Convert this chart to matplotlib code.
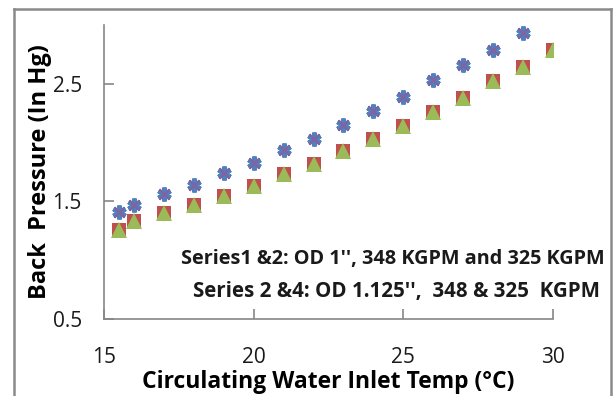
import matplotlib
matplotlib.use("Agg")
import matplotlib.pyplot as plt
from matplotlib.lines import Line2D

# Data
temp_upper = [15.5, 16, 17, 18, 19, 20, 21, 22, 23, 24, 25, 26, 27, 28, 29]
series1 = [1.41, 1.47, 1.56, 1.64, 1.74, 1.83, 1.94, 2.03, 2.15, 2.27, 2.39, 2.53, 2.66, 2.79, 2.93]
series2 = [1.41, 1.47, 1.56, 1.64, 1.74, 1.83, 1.94, 2.03, 2.15, 2.27, 2.39, 2.53, 2.66, 2.79, 2.93]
temp_lower = [15.5, 16, 17, 18, 19, 20, 21, 22, 23, 24, 25, 26, 27, 28, 29, 30]
series3 = [1.26, 1.33, 1.40, 1.47, 1.55, 1.63, 1.73, 1.82, 1.93, 2.03, 2.14, 2.26, 2.38, 2.52, 2.64, 2.79]
series4 = [1.26, 1.33, 1.40, 1.47, 1.55, 1.63, 1.73, 1.82, 1.93, 2.03, 2.14, 2.26, 2.38, 2.52, 2.64, 2.79]
xticks = [15, 20, 25, 30]
yticks = [0.5, 1.5, 2.5]
xlabel = "Circulating Water Inlet Temp (°C)"
ylabel = "Back  Pressure (In Hg)"
note1 = "Series1 &2: OD 1'', 348 KGPM and 325 KGPM"
note2 = "Series 2 &4: OD 1.125'',  348 & 325  KGPM"

plt.rcParams['font.family'] = ['Open Sans', 'DejaVu Sans']

W, H = 615, 396
fig = plt.figure(figsize=(W / 100, H / 100), dpi=100)
ax = fig.add_axes([104 / W, 1 - 319 / H, (553 - 104) / W, (319 - 25) / H])

ax.plot(temp_lower, series3, linestyle='none', marker='s', markersize=9.5,
        color='#C0504D', markeredgewidth=0, zorder=3)
ax.plot(temp_lower, series4, linestyle='none', marker='^', markersize=11,
        color='#9BBB59', markeredgewidth=0, zorder=4)
ax.plot(temp_upper, series1, linestyle='none', marker=(6, 2, 0), markersize=10,
        color='#4F81BD', markeredgewidth=3.2, zorder=5)
ax.plot(temp_upper, series2, linestyle='none', marker='x', markersize=7.5,
        color='#8064A2', markeredgewidth=1.8, zorder=6)

ax.set_xlim(15, 30)
ax.set_ylim(0.5, 3.0)
ax.set_xticks(xticks)
ax.set_yticks(yticks)
ax.set_xticklabels([str(v) for v in xticks])
ax.set_yticklabels([str(v) for v in yticks])

for s in ['top', 'right']:
    ax.spines[s].set_visible(False)
for s in ['left', 'bottom']:
    ax.spines[s].set_color('#868686')
    ax.spines[s].set_linewidth(1.2)

ax.tick_params(axis='both', direction='in', length=7, width=1.2, color='#868686',
               labelsize=15, labelcolor='#1a1a1a')
ax.tick_params(axis='x', pad=20)
ax.tick_params(axis='y', pad=16)

ax.set_xlabel(xlabel, fontsize=16.5, fontweight='bold')
ax.xaxis.set_label_coords(0.5, -(370 - 319) / 294)
ax.set_ylabel(ylabel, fontsize=17, fontweight='bold')
ax.yaxis.set_label_coords(-(104 - 52) / 449, 0.5)

fig.text(181 / W, 1 - 259 / H, note1, fontsize=14.3, fontweight='bold',
         ha='left', va='center', color='#1a1a1a')
fig.text(193 / W, 1 - 292 / H, note2, fontsize=14.8, fontweight='bold',
         ha='left', va='center', color='#1a1a1a')

# outer chart border (left, top, right)
bc = '#8a8a8a'
fig.add_artist(Line2D([13.5 / W, 13.5 / W], [0, 1 - 9 / H], transform=fig.transFigure, color=bc, lw=1.8))
fig.add_artist(Line2D([13.5 / W, 610.5 / W], [1 - 9 / H, 1 - 9 / H], transform=fig.transFigure, color=bc, lw=1.8))
fig.add_artist(Line2D([610.5 / W, 610.5 / W], [1 - 9 / H, 0], transform=fig.transFigure, color=bc, lw=1.8))

fig.savefig('out.png', dpi=100)
